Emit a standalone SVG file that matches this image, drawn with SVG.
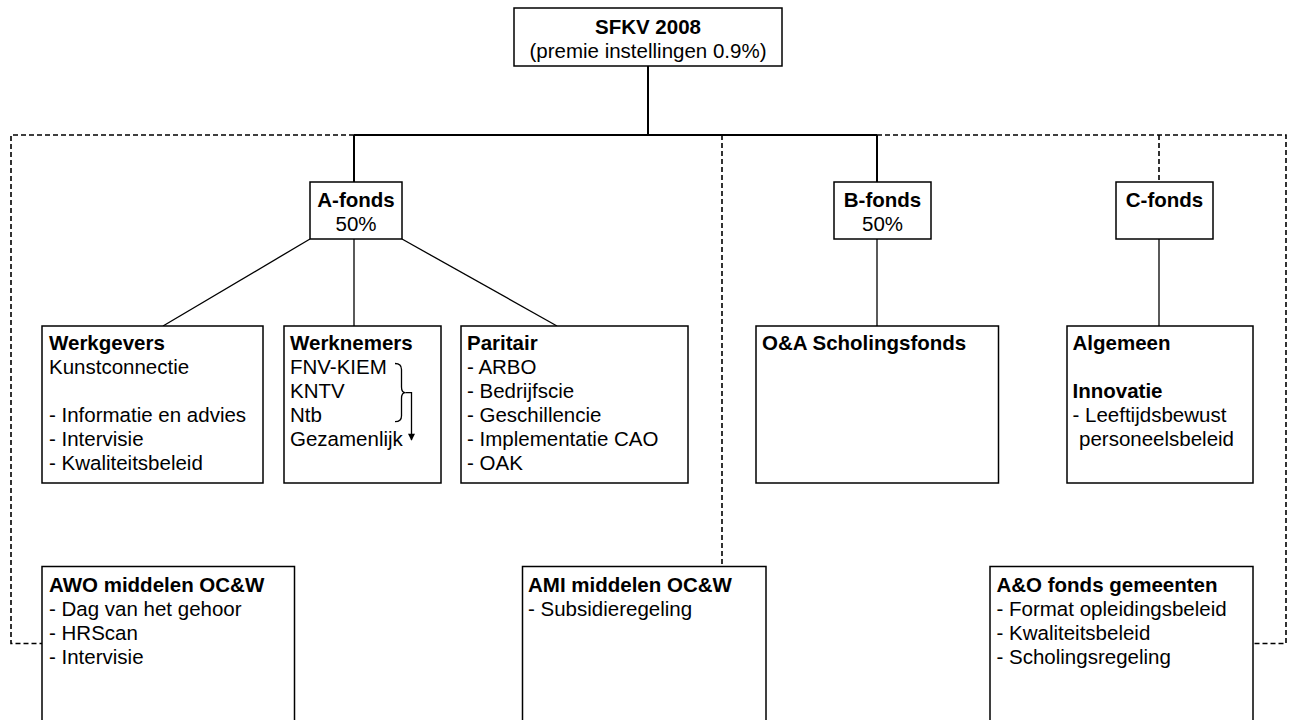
<svg xmlns="http://www.w3.org/2000/svg" width="1294" height="720" viewBox="0 0 1294 720">
<style>
  .box { fill: #ffffff; stroke: #000000; stroke-width: 1.5; }
  .t { font-family: "Liberation Sans", Arial, sans-serif; font-size: 20.5px; fill: #000000; }
  .b { font-weight: bold; }
  .c { text-anchor: middle; }
  .solid { fill: none; stroke: #000000; stroke-width: 2; }
  .thin { fill: none; stroke: #000000; stroke-width: 1.3; }
  .dash { fill: none; stroke: #000000; stroke-width: 1.6; stroke-dasharray: 5 3; }
</style>
<defs>
  <marker id="arrow" viewBox="0 0 10 10" refX="9" refY="5" markerWidth="8" markerHeight="7" orient="auto" markerUnits="userSpaceOnUse">
    <path d="M0,0 L10,5 L0,10 z" fill="#000000"/>
  </marker>
</defs>
<rect x="0" y="0" width="1294" height="720" fill="#ffffff"/>

<g id="connectors">
  <line class="solid" x1="648" y1="66" x2="648" y2="135"/>
  <line class="solid" x1="354" y1="135" x2="877" y2="135"/>
  <line class="solid" x1="354" y1="135" x2="354" y2="182"/>
  <line class="solid" x1="877" y1="135" x2="877" y2="182"/>
  <line class="thin" x1="310" y1="239" x2="163" y2="326"/>
  <line class="thin" x1="354" y1="239" x2="354" y2="326"/>
  <line class="thin" x1="402" y1="239" x2="557" y2="326"/>
  <line class="thin" x1="877" y1="239" x2="877" y2="326"/>
  <line class="thin" x1="1159" y1="239" x2="1159" y2="326"/>
  <polyline class="dash" points="354,135 11,135 11,643.5 42,643.5"/>
  <polyline class="dash" points="877,135 1286,135 1286,643.5 1253,643.5"/>
  <line class="dash" x1="722" y1="135" x2="722" y2="566.5"/>
  <line class="dash" x1="1159" y1="135" x2="1159" y2="182"/>
</g>

<g id="sfkv">
  <rect class="box" x="514" y="8" width="268" height="58"/>
  <text class="t b c" x="648" y="34">SFKV 2008</text>
  <text class="t c" x="648" y="58">(premie instellingen 0.9%)</text>
</g>

<g id="a-fonds">
  <rect class="box" x="310" y="182" width="92" height="57"/>
  <text class="t b c" x="356" y="207">A-fonds</text>
  <text class="t c" x="356" y="231">50%</text>
</g>

<g id="b-fonds">
  <rect class="box" x="834" y="182" width="97" height="57"/>
  <text class="t b c" x="882.5" y="207">B-fonds</text>
  <text class="t c" x="882.5" y="231">50%</text>
</g>

<g id="c-fonds">
  <rect class="box" x="1116" y="182" width="97" height="57"/>
  <text class="t b c" x="1164.5" y="207">C-fonds</text>
</g>

<g id="werkgevers">
  <rect class="box" x="42" y="326" width="221" height="157"/>
  <text class="t b" x="49" y="350">Werkgevers</text>
  <text class="t" x="49" y="374">Kunstconnectie</text>
  <text class="t" x="49" y="422">- Informatie en advies</text>
  <text class="t" x="49" y="446">- Intervisie</text>
  <text class="t" x="49" y="470">- Kwaliteitsbeleid</text>
</g>

<g id="werknemers">
  <rect class="box" x="284" y="326" width="157" height="157"/>
  <text class="t b" x="290" y="350">Werknemers</text>
  <text class="t" x="290" y="374">FNV-KIEM</text>
  <text class="t" x="290" y="398">KNTV</text>
  <text class="t" x="290" y="422">Ntb</text>
  <text class="t" x="290" y="446">Gezamenlijk</text>
  <path class="thin" d="M395,363.5 Q401.5,363.5 401.5,369.5 L401.5,387 Q401.5,392.7 405.5,392.7 Q401.5,392.7 401.5,398.5 L401.5,416 Q401.5,421.7 395,421.7"/>
  <path class="thin" d="M405.5,392.7 L411.5,392.7 L411.5,440" marker-end="url(#arrow)"/>
</g>

<g id="paritair">
  <rect class="box" x="461" y="326" width="227" height="157"/>
  <text class="t b" x="467" y="350">Paritair</text>
  <text class="t" x="467" y="374">- ARBO</text>
  <text class="t" x="467" y="398">- Bedrijfscie</text>
  <text class="t" x="467" y="422">- Geschillencie</text>
  <text class="t" x="467" y="446">- Implementatie CAO</text>
  <text class="t" x="467" y="470">- OAK</text>
</g>

<g id="oa-scholingsfonds">
  <rect class="box" x="756" y="326" width="242.5" height="157"/>
  <text class="t b" x="762" y="350">O&amp;A Scholingsfonds</text>
</g>

<g id="algemeen">
  <rect class="box" x="1067" y="326" width="186" height="157"/>
  <text class="t b" x="1072.5" y="350">Algemeen</text>
  <text class="t b" x="1072.5" y="398">Innovatie</text>
  <text class="t" x="1072.5" y="422">- Leeftijdsbewust</text>
  <text class="t" x="1079" y="446">personeelsbeleid</text>
</g>

<g id="awo">
  <rect class="box" x="42" y="566.5" width="252.5" height="170"/>
  <text class="t b" x="49" y="592">AWO middelen OC&amp;W</text>
  <text class="t" x="49" y="616">- Dag van het gehoor</text>
  <text class="t" x="49" y="640">- HRScan</text>
  <text class="t" x="49" y="664">- Intervisie</text>
</g>

<g id="ami">
  <rect class="box" x="522.5" y="566.5" width="243.5" height="170"/>
  <text class="t b" x="528" y="592">AMI middelen OC&amp;W</text>
  <text class="t" x="528" y="616">- Subsidieregeling</text>
</g>

<g id="ao-gemeenten">
  <rect class="box" x="990" y="566.5" width="263" height="170"/>
  <text class="t b" x="996.5" y="592">A&amp;O fonds gemeenten</text>
  <text class="t" x="996.5" y="616">- Format opleidingsbeleid</text>
  <text class="t" x="996.5" y="640">- Kwaliteitsbeleid</text>
  <text class="t" x="996.5" y="664">- Scholingsregeling</text>
</g>
</svg>
